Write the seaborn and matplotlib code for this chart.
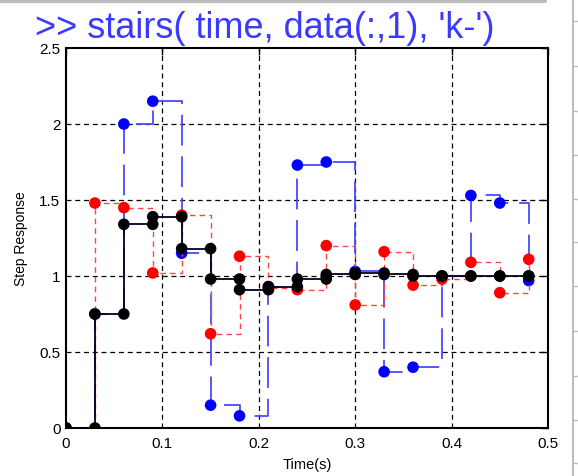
import numpy as np
import pandas as pd
import matplotlib
matplotlib.use("Agg")
import matplotlib.pyplot as plt
import seaborn as sns
from matplotlib.lines import Line2D

sns.set_theme(style="white")
plt.rcParams['font.family'] = ['Liberation Sans', 'DejaVu Sans']

# ---- data ----
time = [0.0, 0.03, 0.06, 0.09, 0.12, 0.15, 0.18, 0.21, 0.24, 0.27, 0.30,
        0.33, 0.36, 0.39, 0.42, 0.45, 0.48]
resp_black = [0.0, 0.75, 1.34, 1.39, 1.18, 0.98, 0.91, 0.93, 0.98, 1.01, 1.02,
              1.01, 1.00, 1.00, 1.00, 1.00, 1.00]
resp_red = [0.0, 1.48, 1.45, 1.02, 1.40, 0.62, 1.13, 0.92, 0.91, 1.20, 0.81,
            1.16, 0.94, 0.98, 1.09, 0.89, 1.11]
resp_blue = [0.0, 0.75, 2.00, 2.15, 1.15, 0.15, 0.08, 0.93, 1.73, 1.75, 1.03,
             0.37, 0.40, 1.00, 1.53, 1.48, 0.97]
xticks = [0, 0.1, 0.2, 0.3, 0.4, 0.5]
xticklabels = ["0", "0.1", "0.2", "0.3", "0.4", "0.5"]
yticks = [0, 0.5, 1, 1.5, 2, 2.5]
yticklabels = ["0", "0.5", "1", "1.5", "2", "2.5"]
title_text = ">> stairs( time, data(:,1), 'k-')"

W, H = 578, 477
fig = plt.figure(figsize=(W / 100, H / 100), dpi=100)
fig.patch.set_facecolor("white")
L, R, T, B = 66, 548, 49, 429
ax = fig.add_axes([L / W, 1 - B / H, (R - L) / W, (B - T) / H])
ax.set_facecolor("white")

# grid
ax.set_xlim(0, 0.5)
ax.set_ylim(0, 2.5)
for xv in xticks[1:-1]:
    ax.axvline(xv, color="black", lw=0.9, ls=(0, (4, 3)), zorder=1)
for yv in yticks[1:-1]:
    ax.axhline(yv, color="black", lw=0.9, ls=(0, (4, 3)), zorder=1)

# blue series (long-dash stairs)
df_b = pd.DataFrame({"t": time, "y": resp_blue})
sns.lineplot(data=df_b, x="t", y="y", ax=ax, color="#4a4aff", lw=1.3,
             drawstyle="steps-post", linestyle=(0, (17, 6)), zorder=2,
             estimator=None, sort=False)
sns.scatterplot(data=df_b, x="t", y="y", ax=ax, color="#0000ff", s=70,
                edgecolor="none", zorder=3)

# red series (dashed stairs)
df_r = pd.DataFrame({"t": time, "y": resp_red})
sns.lineplot(data=df_r, x="t", y="y", ax=ax, color="#ff4444", lw=1.0,
             drawstyle="steps-post", linestyle=(0, (4, 3)), zorder=4,
             estimator=None, sort=False)
sns.scatterplot(data=df_r, x="t", y="y", ax=ax, color="#ff0000", s=70,
                edgecolor="none", zorder=5)

# black series: stairs vertices with markers at each vertex
tb = np.asarray(time)
yb = np.asarray(resp_black)
vx = np.repeat(tb, 2)[1:]
vy = np.repeat(yb, 2)[:-1]
df_k = pd.DataFrame({"t": vx, "y": vy})
sns.lineplot(data=df_k, x="t", y="y", ax=ax, color="#000022", lw=1.3,
             zorder=6, estimator=None, sort=False)
sns.scatterplot(data=df_k, x="t", y="y", ax=ax, color="black", s=70,
                edgecolor="none", zorder=7)

ax.set_xticks(xticks)
ax.set_xticklabels(xticklabels)
ax.set_yticks(yticks)
ax.set_yticklabels(yticklabels)
ax.tick_params(direction="in", length=5, width=1, top=True, right=True,
               labelsize=11, colors="black")
ax.tick_params(axis="x", pad=6)
ax.tick_params(axis="y", pad=4)
for s in ax.spines.values():
    s.set_visible(True)
    s.set_color("black")
    s.set_linewidth(1.5)
ax.set_xlabel("Time(s)", fontsize=10.5, color="black", labelpad=5)
ax.set_ylabel("Step Response", fontsize=10, color="black", labelpad=8)
ax.grid(False)

# title overlay
fig.text(35 / W, 1 - 38 / H, title_text, color="#3a3aff", fontsize=26,
         ha="left", va="baseline")

# window chrome
fig.add_artist(Line2D([0, 545 / W], [1 - 2 / H, 1 - 2 / H], color="#bdbdbd",
                      lw=3, transform=fig.transFigure))
fig.add_artist(Line2D([573 / W, 573 / W], [0, 1], color="#bdbdbd",
                      lw=1.5, transform=fig.transFigure))
for yy in [22, 67, 112, 156, 200, 243, 287, 332, 377, 421, 464]:
    fig.add_artist(Line2D([573 / W, 1], [1 - yy / H, 1 - yy / H],
                          color="#bdbdbd", lw=1, transform=fig.transFigure))

fig.savefig("out.png", dpi=100, facecolor="white")
